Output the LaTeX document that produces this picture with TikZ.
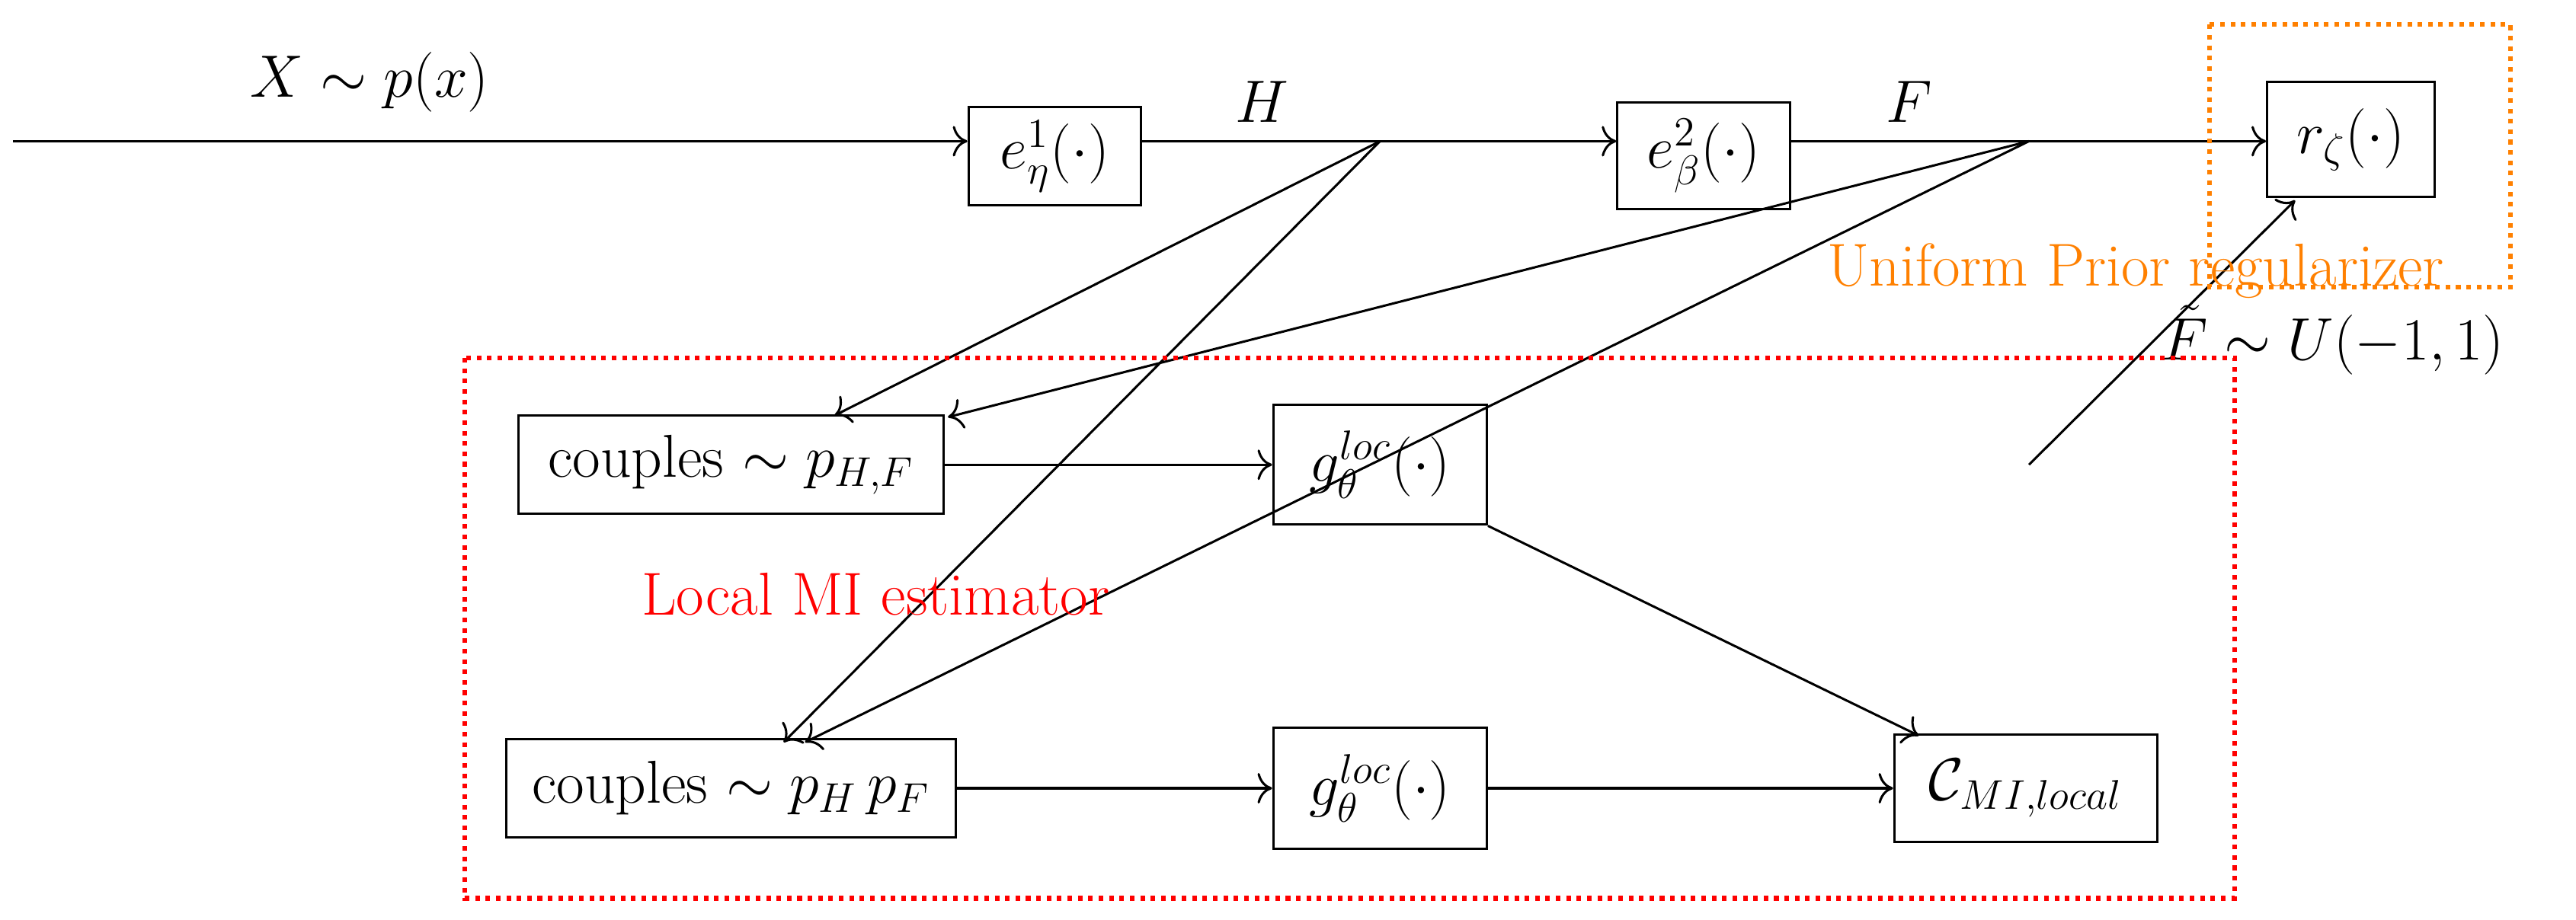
\documentclass[tikz,border=0pt]{standalone}
\usepackage{amsmath}
\usetikzlibrary{arrows.meta}
\begin{document}
\begin{tikzpicture}[x=0.02cm,y=-0.02cm,line width=0.8pt,>={To[scale=1.5]},
  every node/.style={font=\fontsize{21}{24}\selectfont},
  bx/.style={draw,inner sep=0pt,anchor=center}]
\useasboundingbox (0,0) rectangle (1568,560);
\node[bx,minimum width=105*0.02cm,minimum height=60*0.02cm] (e1) at (642,95) {$e^1_\eta(\cdot)$};
\node[bx,minimum width=105*0.02cm,minimum height=65*0.02cm] (e2) at (1037,95) {$e^2_\beta(\cdot)$};
\node[bx,minimum width=102*0.02cm,minimum height=70*0.02cm] (r) at (1431,85) {$r_\zeta(\cdot)$};
\node[bx,minimum width=259*0.02cm,minimum height=60*0.02cm] (c1) at (445,283) {couples $\sim p_{H,F}$};
\node[bx,minimum width=130*0.02cm,minimum height=73*0.02cm] (g1) at (840,283) {$g^{loc}_\theta(\cdot)$};
\node[bx,minimum width=274*0.02cm,minimum height=60*0.02cm] (c2) at (445,480) {couples $\sim p_H\,p_F$};
\node[bx,minimum width=130*0.02cm,minimum height=74*0.02cm] (g2) at (840,480) {$g^{loc}_\theta(\cdot)$};
\node[bx,minimum width=160*0.02cm,minimum height=65*0.02cm] (C) at (1233,480) {$\mathcal{C}_{MI,local}$};
\coordinate (s) at (8,86);
\coordinate (H) at (840,86);
\coordinate (F) at (1235,86);
\coordinate (ft) at (1235,283);
\draw[->] (s) -- (e1.west |- s);
\draw (e1.east |- H) -- (H);
\draw[->] (H) -- (e2.west |- H);
\draw (e2.east |- F) -- (F);
\draw[->] (F) -- (r.west |- F);
\draw[->] (ft) -- (1397,122);
\draw[->] (H) -- (508,253);
\draw[->] (H) -- (477,452);
\draw[->] (F) -- (577,254);
\draw[->] (F) -- (490,452);
\draw[->] (c1) -- (g1);
\draw[->] (g1.south east) -- (1168,448);
\draw[->] (c2) -- (g2);
\draw[->] (g2) -- (C);
\node (lx) at (225,50) {$X\sim p(x)$};
\node (lh) at (768,62) {$H$};
\node (lf) at (1162,62) {$F$};
\node (lu) at (1420,207) {$\tilde F\sim U(-1,1)$};
\draw[orange,dotted,line width=1.6pt] (1345,15) rectangle (1528,175);
\node[text=orange] (uo) at (1300,165) {Uniform Prior regularizer};
\draw[red,dotted,line width=1.6pt] (283,218) rectangle (1360,547);
\node[text=red] (lm) at (533,362) {Local MI estimator};
\end{tikzpicture}
\end{document}
